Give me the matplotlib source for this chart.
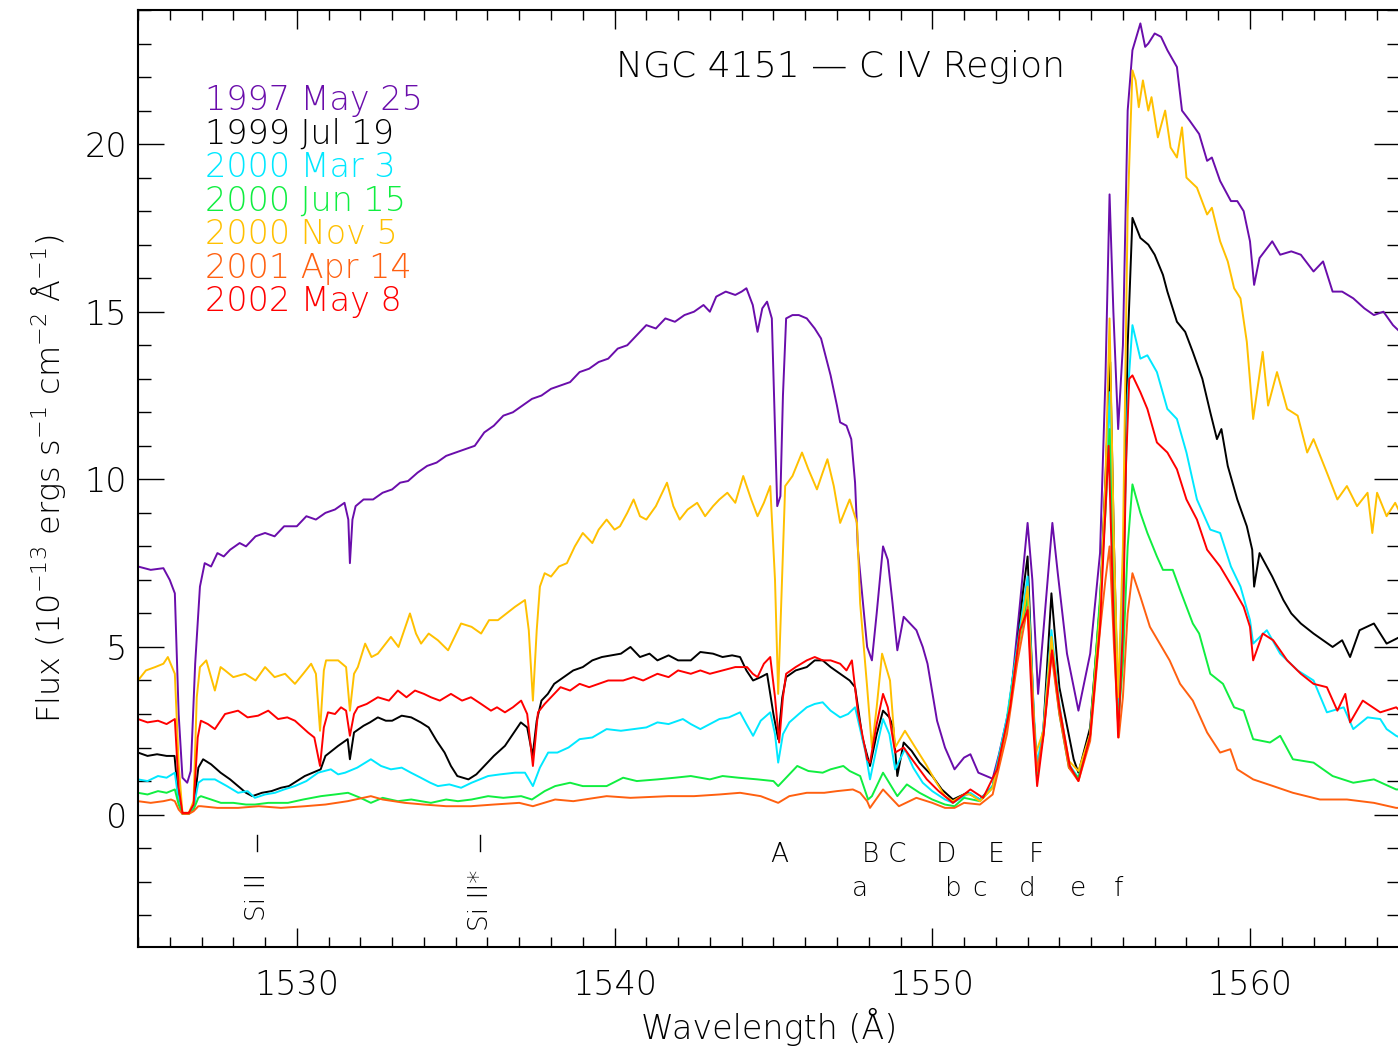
import matplotlib
matplotlib.use("Agg")
import matplotlib.pyplot as plt
from matplotlib.ticker import MultipleLocator

plt.rcParams['font.family'] = ['DejaVu Sans']
plt.rcParams['font.weight'] = 'light'
plt.rcParams['axes.labelweight'] = 'light'
plt.rcParams['mathtext.default'] = 'regular'

# (wavelength, flux), one list per epoch
wl_1997 = [1525.00, 1525.40, 1525.80, 1526.00, 1526.16, 1526.28, 1526.40, 1526.55, 1526.66, 1526.80,
           1526.95, 1527.10, 1527.30, 1527.50, 1527.70, 1527.90, 1528.20, 1528.40, 1528.70, 1529.00,
           1529.30, 1529.60, 1530.00, 1530.30, 1530.60, 1530.90, 1531.20, 1531.50, 1531.62, 1531.67,
           1531.75, 1531.85, 1532.10, 1532.40, 1532.70, 1533.00, 1533.25, 1533.50, 1533.80, 1534.10,
           1534.40, 1534.70, 1535.00, 1535.30, 1535.60, 1535.90, 1536.20, 1536.50, 1536.80, 1537.10,
           1537.40, 1537.70, 1538.00, 1538.30, 1538.60, 1538.90, 1539.20, 1539.50, 1539.80, 1540.10,
           1540.40, 1540.70, 1541.00, 1541.30, 1541.60, 1541.90, 1542.20, 1542.50, 1542.80, 1543.00,
           1543.20, 1543.50, 1543.80, 1544.00, 1544.15, 1544.35, 1544.50, 1544.65, 1544.80, 1544.95,
           1545.05, 1545.12, 1545.22, 1545.30, 1545.40, 1545.60, 1545.80, 1546.05, 1546.30, 1546.50,
           1546.80, 1547.00, 1547.10, 1547.30, 1547.45, 1547.57, 1547.66, 1547.80, 1547.95, 1548.10,
           1548.25, 1548.45, 1548.60, 1548.75, 1548.90, 1549.10, 1549.30, 1549.50, 1549.70, 1549.85,
           1550.15, 1550.40, 1550.70, 1551.00, 1551.20, 1551.45, 1551.90, 1552.10, 1552.45, 1552.76,
           1553.00, 1553.15, 1553.33, 1553.50, 1553.78, 1553.95, 1554.24, 1554.60, 1554.97, 1555.28,
           1555.45, 1555.58, 1555.70, 1555.85, 1556.00, 1556.15, 1556.30, 1556.55, 1556.70, 1556.80,
           1557.00, 1557.20, 1557.40, 1557.70, 1557.86, 1558.10, 1558.40, 1558.65, 1558.80, 1559.06,
           1559.40, 1559.60, 1559.80, 1560.00, 1560.13, 1560.30, 1560.70, 1560.95, 1561.30, 1561.60,
           1562.00, 1562.30, 1562.60, 1562.90, 1563.25, 1563.60, 1563.90, 1564.20, 1564.50, 1564.72]
fx_1997 = [7.40, 7.30, 7.35, 7.00, 6.60, 3.00, 1.10, 0.95, 1.30, 4.50,
           6.80, 7.50, 7.40, 7.80, 7.70, 7.90, 8.10, 8.00, 8.30, 8.40,
           8.30, 8.60, 8.60, 8.90, 8.80, 9.00, 9.10, 9.30, 8.80, 7.50,
           8.80, 9.20, 9.40, 9.40, 9.60, 9.70, 9.90, 9.95, 10.20, 10.40,
           10.50, 10.70, 10.80, 10.90, 11.00, 11.40, 11.60, 11.90, 12.00, 12.20,
           12.40, 12.50, 12.70, 12.80, 12.90, 13.20, 13.30, 13.50, 13.60, 13.90,
           14.00, 14.30, 14.60, 14.50, 14.80, 14.70, 14.90, 15.00, 15.20, 15.00,
           15.45, 15.60, 15.50, 15.60, 15.70, 15.20, 14.40, 15.10, 15.30, 14.80,
           11.50, 9.20, 9.50, 12.50, 14.80, 14.90, 14.90, 14.80, 14.50, 14.20,
           13.10, 12.20, 11.70, 11.60, 11.20, 9.90, 7.90, 6.50, 5.00, 4.60,
           6.00, 8.00, 7.60, 6.30, 4.90, 5.90, 5.70, 5.50, 5.00, 4.50,
           2.80, 2.00, 1.35, 1.70, 1.80, 1.25, 1.07, 1.80, 3.30, 6.30,
           8.70, 7.00, 3.60, 5.50, 8.70, 7.20, 4.80, 3.10, 4.80, 7.80,
           13.00, 18.50, 15.00, 11.50, 14.00, 21.00, 22.80, 23.60, 22.90, 23.00,
           23.30, 23.20, 22.80, 22.30, 21.00, 20.70, 20.30, 19.50, 19.60, 18.90,
           18.30, 18.30, 18.00, 17.10, 15.80, 16.60, 17.10, 16.70, 16.80, 16.70,
           16.20, 16.50, 15.60, 15.60, 15.40, 15.10, 14.90, 15.00, 14.60, 14.40]

wl_1999 = [1525.00, 1525.30, 1525.60, 1525.90, 1526.15, 1526.28, 1526.40, 1526.60, 1526.75, 1526.90,
           1527.05, 1527.30, 1527.60, 1527.90, 1528.15, 1528.40, 1528.60, 1528.90, 1529.20, 1529.50,
           1529.75, 1530.00, 1530.25, 1530.50, 1530.75, 1530.90, 1531.10, 1531.30, 1531.60, 1531.67,
           1531.80, 1532.10, 1532.30, 1532.55, 1532.80, 1533.00, 1533.30, 1533.60, 1533.90, 1534.15,
           1534.40, 1534.65, 1534.85, 1535.05, 1535.40, 1535.65, 1535.90, 1536.20, 1536.55, 1536.80,
           1537.05, 1537.25, 1537.42, 1537.55, 1537.70, 1537.90, 1538.10, 1538.40, 1538.70, 1539.00,
           1539.30, 1539.60, 1539.90, 1540.20, 1540.50, 1540.80, 1541.10, 1541.35, 1541.70, 1542.00,
           1542.40, 1542.70, 1543.10, 1543.40, 1543.70, 1543.95, 1544.15, 1544.36, 1544.60, 1544.80,
           1545.00, 1545.15, 1545.28, 1545.40, 1545.70, 1546.05, 1546.30, 1546.55, 1546.80, 1547.10,
           1547.40, 1547.57, 1547.80, 1548.04, 1548.25, 1548.45, 1548.65, 1548.77, 1548.90, 1549.10,
           1549.35, 1549.60, 1550.00, 1550.30, 1550.65, 1551.10, 1551.50, 1551.90, 1552.35, 1552.67,
           1552.85, 1553.00, 1553.20, 1553.30, 1553.50, 1553.75, 1554.00, 1554.45, 1554.60, 1554.97,
           1555.28, 1555.45, 1555.60, 1555.72, 1555.85, 1556.00, 1556.15, 1556.30, 1556.55, 1556.80,
           1557.00, 1557.26, 1557.40, 1557.70, 1557.96, 1558.20, 1558.50, 1558.75, 1558.96, 1559.10,
           1559.30, 1559.60, 1559.90, 1560.07, 1560.13, 1560.30, 1560.70, 1561.05, 1561.30, 1561.60,
           1562.00, 1562.30, 1562.60, 1562.90, 1563.15, 1563.45, 1563.90, 1564.30, 1564.72]
fx_1999 = [1.85, 1.75, 1.80, 1.75, 1.75, 0.40, 0.05, 0.05, 0.20, 1.40,
           1.65, 1.50, 1.25, 1.05, 0.85, 0.65, 0.55, 0.65, 0.70, 0.80,
           0.85, 1.00, 1.15, 1.25, 1.35, 1.75, 1.90, 2.05, 2.25, 1.65,
           2.45, 2.65, 2.75, 2.90, 2.80, 2.80, 2.95, 2.90, 2.75, 2.60,
           2.20, 1.85, 1.45, 1.15, 1.05, 1.20, 1.45, 1.75, 2.05, 2.40,
           2.75, 2.60, 1.75, 2.80, 3.40, 3.60, 3.90, 4.10, 4.30, 4.40,
           4.60, 4.70, 4.75, 4.80, 5.00, 4.70, 4.80, 4.60, 4.75, 4.60,
           4.60, 4.85, 4.80, 4.70, 4.75, 4.70, 4.30, 4.00, 4.10, 4.20,
           3.00, 2.25, 3.50, 4.10, 4.30, 4.40, 4.60, 4.60, 4.40, 4.20,
           4.00, 3.80, 2.30, 1.45, 2.40, 3.10, 2.90, 2.60, 1.15, 2.15,
           1.90, 1.55, 1.15, 0.75, 0.45, 0.65, 0.45, 0.85, 2.80, 5.00,
           6.60, 7.70, 2.80, 1.05, 2.60, 6.60, 3.80, 1.65, 1.25, 2.60,
           6.30, 10.00, 13.50, 8.00, 3.00, 6.00, 14.00, 17.80, 17.20, 17.00,
           16.70, 16.10, 15.60, 14.70, 14.40, 13.80, 13.00, 12.00, 11.20, 11.50,
           10.40, 9.40, 8.60, 7.90, 6.80, 7.80, 7.10, 6.40, 6.00, 5.70,
           5.40, 5.20, 5.00, 5.20, 4.70, 5.50, 5.70, 5.10, 5.30]

wl_2000a = [1525.00, 1525.30, 1525.63, 1525.90, 1526.16, 1526.28, 1526.40, 1526.60, 1526.75, 1526.90,
            1527.05, 1527.42, 1527.80, 1528.15, 1528.45, 1528.68, 1529.00, 1529.31, 1529.60, 1529.94,
            1530.30, 1530.67, 1531.07, 1531.30, 1531.52, 1531.90, 1532.33, 1532.65, 1532.96, 1533.30,
            1533.59, 1533.90, 1534.20, 1534.44, 1534.80, 1535.17, 1535.50, 1536.02, 1536.40, 1536.87,
            1537.18, 1537.43, 1537.65, 1537.91, 1538.20, 1538.55, 1538.90, 1539.30, 1539.75, 1540.20,
            1540.60, 1541.00, 1541.35, 1541.70, 1542.15, 1542.40, 1542.70, 1543.00, 1543.30, 1543.60,
            1543.95, 1544.15, 1544.36, 1544.60, 1544.90, 1545.05, 1545.15, 1545.30, 1545.50, 1545.80,
            1546.05, 1546.30, 1546.55, 1546.80, 1547.10, 1547.35, 1547.57, 1547.90, 1548.04, 1548.25,
            1548.45, 1548.65, 1548.83, 1549.14, 1549.40, 1549.70, 1550.00, 1550.40, 1550.65, 1551.00,
            1551.20, 1551.50, 1551.90, 1552.35, 1552.67, 1553.00, 1553.20, 1553.30, 1553.50, 1553.75,
            1554.00, 1554.30, 1554.60, 1554.97, 1555.28, 1555.45, 1555.58, 1555.72, 1555.85, 1556.00,
            1556.15, 1556.30, 1556.55, 1556.77, 1557.07, 1557.40, 1557.70, 1558.00, 1558.33, 1558.75,
            1559.06, 1559.40, 1559.70, 1560.00, 1560.10, 1560.53, 1560.95, 1561.50, 1562.00, 1562.42,
            1562.95, 1563.25, 1563.70, 1564.10, 1564.30, 1564.60, 1564.72]
fx_2000a = [1.05, 1.00, 1.15, 1.10, 1.25, 0.40, 0.02, 0.02, 0.20, 0.95,
            1.05, 1.05, 0.85, 0.65, 0.70, 0.50, 0.60, 0.65, 0.75, 0.85,
            1.00, 1.25, 1.35, 1.20, 1.25, 1.40, 1.65, 1.45, 1.35, 1.40,
            1.25, 1.10, 0.95, 0.85, 0.90, 0.80, 0.95, 1.15, 1.20, 1.25,
            1.25, 0.85, 1.40, 1.85, 1.85, 2.00, 2.25, 2.30, 2.55, 2.50,
            2.55, 2.60, 2.75, 2.70, 2.85, 2.70, 2.55, 2.70, 2.85, 2.90,
            3.05, 2.70, 2.35, 2.80, 3.05, 2.40, 1.55, 2.40, 2.75, 3.00,
            3.20, 3.30, 3.35, 3.10, 2.90, 3.00, 3.20, 1.85, 1.05, 2.00,
            2.85, 2.40, 1.35, 1.95, 1.40, 0.95, 0.70, 0.45, 0.35, 0.55,
            0.65, 0.45, 0.85, 2.90, 5.00, 7.10, 3.00, 1.50, 2.60, 5.50,
            3.30, 1.50, 1.10, 2.40, 6.00, 9.50, 12.60, 7.50, 3.00, 6.50,
            12.50, 14.60, 13.60, 13.70, 13.20, 12.10, 11.80, 10.80, 9.40, 8.50,
            8.40, 7.40, 6.80, 5.80, 5.10, 5.50, 4.80, 4.30, 4.00, 3.05,
            3.20, 2.55, 2.90, 2.85, 2.55, 2.35, 2.30]

wl_2000b = [1525.00, 1525.30, 1525.63, 1525.90, 1526.16, 1526.28, 1526.40, 1526.60, 1526.75, 1526.90,
            1526.98, 1527.30, 1527.61, 1528.00, 1528.40, 1528.68, 1529.10, 1529.72, 1530.20, 1530.76,
            1531.20, 1531.61, 1532.00, 1532.33, 1532.70, 1533.18, 1533.60, 1534.22, 1534.70, 1535.07,
            1535.50, 1536.02, 1536.50, 1537.06, 1537.40, 1537.80, 1538.13, 1538.60, 1539.00, 1539.75,
            1540.27, 1540.70, 1541.35, 1541.90, 1542.40, 1543.00, 1543.40, 1543.90, 1544.50, 1545.00,
            1545.15, 1545.50, 1545.75, 1546.10, 1546.55, 1546.80, 1547.20, 1547.40, 1547.73, 1547.98,
            1548.10, 1548.45, 1548.90, 1549.20, 1549.60, 1550.00, 1550.40, 1550.70, 1551.00, 1551.50,
            1551.90, 1552.35, 1552.67, 1553.00, 1553.20, 1553.30, 1553.50, 1553.75, 1554.00, 1554.30,
            1554.60, 1554.97, 1555.28, 1555.45, 1555.58, 1555.72, 1555.85, 1556.00, 1556.15, 1556.30,
            1556.55, 1556.77, 1557.07, 1557.26, 1557.57, 1557.80, 1558.20, 1558.40, 1558.75, 1559.15,
            1559.50, 1559.80, 1560.10, 1560.63, 1560.95, 1561.35, 1562.00, 1562.60, 1563.25, 1563.90,
            1564.60, 1564.72]
fx_2000b = [0.65, 0.60, 0.70, 0.65, 0.75, 0.30, 0.02, 0.02, 0.15, 0.50,
            0.55, 0.45, 0.35, 0.35, 0.30, 0.30, 0.35, 0.35, 0.45, 0.55,
            0.60, 0.65, 0.50, 0.35, 0.50, 0.40, 0.45, 0.35, 0.45, 0.40,
            0.45, 0.55, 0.50, 0.55, 0.45, 0.70, 0.85, 0.95, 0.85, 0.85,
            1.10, 1.00, 1.05, 1.10, 1.15, 1.05, 1.15, 1.10, 1.05, 1.00,
            0.85, 1.20, 1.45, 1.30, 1.25, 1.35, 1.45, 1.30, 1.15, 0.45,
            0.55, 1.25, 0.55, 0.90, 0.65, 0.45, 0.30, 0.25, 0.50, 0.40,
            0.80, 2.70, 4.80, 6.50, 2.80, 1.20, 2.40, 5.00, 3.00, 1.40,
            1.10, 2.40, 6.50, 9.00, 11.50, 6.00, 2.70, 4.50, 8.00, 9.85,
            9.00, 8.40, 7.70, 7.30, 7.30, 6.70, 5.70, 5.40, 4.20, 3.90,
            3.20, 3.10, 2.25, 2.15, 2.35, 1.65, 1.55, 1.15, 0.95, 1.05,
            0.75, 0.75]

wl_2000c = [1525.00, 1525.25, 1525.54, 1525.80, 1525.94, 1526.16, 1526.28, 1526.40, 1526.60, 1526.75,
            1526.85, 1526.95, 1527.15, 1527.42, 1527.60, 1527.74, 1528.00, 1528.37, 1528.70, 1529.00,
            1529.30, 1529.63, 1529.94, 1530.20, 1530.45, 1530.60, 1530.73, 1530.85, 1530.92, 1531.30,
            1531.55, 1531.67, 1531.80, 1531.92, 1532.15, 1532.35, 1532.55, 1532.96, 1533.20, 1533.56,
            1533.75, 1533.91, 1534.15, 1534.44, 1534.76, 1535.17, 1535.50, 1535.80, 1536.05, 1536.33,
            1536.60, 1536.87, 1537.18, 1537.30, 1537.43, 1537.55, 1537.65, 1537.80, 1538.00, 1538.25,
            1538.50, 1538.75, 1539.00, 1539.30, 1539.50, 1539.75, 1540.00, 1540.17, 1540.40, 1540.60,
            1540.80, 1541.00, 1541.30, 1541.65, 1541.85, 1542.05, 1542.30, 1542.60, 1542.85, 1543.10,
            1543.30, 1543.55, 1543.80, 1544.05, 1544.30, 1544.50, 1544.70, 1544.90, 1545.05, 1545.15,
            1545.27, 1545.37, 1545.60, 1545.90, 1546.10, 1546.37, 1546.55, 1546.70, 1546.90, 1547.10,
            1547.40, 1547.63, 1547.73, 1547.95, 1548.10, 1548.25, 1548.42, 1548.67, 1548.83, 1549.14,
            1549.50, 1549.80, 1550.10, 1550.40, 1550.65, 1551.00, 1551.20, 1551.50, 1551.90, 1552.35,
            1552.67, 1553.00, 1553.25, 1553.50, 1553.75, 1554.00, 1554.30, 1554.60, 1554.97, 1555.28,
            1555.45, 1555.58, 1555.72, 1555.85, 1556.00, 1556.15, 1556.30, 1556.40, 1556.50, 1556.63,
            1556.80, 1556.90, 1557.10, 1557.33, 1557.50, 1557.70, 1557.86, 1558.00, 1558.33, 1558.65,
            1558.80, 1559.06, 1559.30, 1559.50, 1559.70, 1559.90, 1560.10, 1560.40, 1560.57, 1560.85,
            1561.17, 1561.50, 1561.80, 1562.00, 1562.42, 1562.75, 1563.05, 1563.37, 1563.70, 1563.85,
            1564.00, 1564.30, 1564.57, 1564.72]
fx_2000c = [4.00, 4.30, 4.40, 4.50, 4.70, 4.20, 1.50, 0.05, 0.05, 0.40,
            3.50, 4.40, 4.60, 3.70, 4.40, 4.30, 4.10, 4.20, 4.00, 4.40,
            4.10, 4.20, 3.90, 4.20, 4.50, 4.20, 2.50, 4.30, 4.60, 4.60,
            4.40, 3.10, 4.20, 4.40, 5.10, 4.70, 4.80, 5.30, 5.00, 6.00,
            5.40, 5.10, 5.40, 5.20, 4.90, 5.70, 5.60, 5.40, 5.80, 5.80,
            6.00, 6.20, 6.40, 5.50, 3.40, 5.50, 6.80, 7.20, 7.10, 7.40,
            7.50, 8.00, 8.40, 8.10, 8.50, 8.80, 8.50, 8.60, 9.00, 9.40,
            8.90, 8.80, 9.20, 9.90, 9.20, 8.80, 9.10, 9.30, 8.90, 9.20,
            9.40, 9.60, 9.30, 10.10, 9.40, 8.90, 9.30, 9.80, 7.00, 3.60,
            7.00, 9.80, 10.10, 10.80, 10.30, 9.70, 10.20, 10.60, 9.80, 8.70,
            9.40, 8.70, 6.30, 3.80, 2.00, 3.20, 4.80, 4.00, 2.00, 2.50,
            1.95, 1.50, 1.00, 0.55, 0.40, 0.60, 0.60, 0.40, 0.80, 2.60,
            4.80, 6.80, 1.80, 2.50, 5.30, 3.20, 1.60, 1.30, 2.40, 6.00,
            10.00, 14.80, 8.00, 3.50, 8.00, 18.00, 22.20, 21.90, 21.10, 21.90,
            21.00, 21.40, 20.20, 21.00, 19.90, 19.60, 20.50, 19.00, 18.70, 17.90,
            18.10, 17.10, 16.50, 15.70, 15.40, 14.10, 11.80, 13.80, 12.20, 13.20,
            12.10, 11.90, 10.80, 11.20, 10.20, 9.40, 9.80, 9.20, 9.60, 8.40,
            9.60, 8.90, 9.30, 9.00]

wl_2001 = [1525.00, 1525.40, 1525.80, 1526.04, 1526.16, 1526.28, 1526.40, 1526.60, 1526.75, 1526.90,
           1526.98, 1527.50, 1528.15, 1528.80, 1529.50, 1530.26, 1530.90, 1531.60, 1532.33, 1532.70,
           1533.40, 1534.00, 1534.70, 1535.48, 1536.20, 1537.00, 1537.43, 1538.13, 1538.70, 1539.75,
           1540.50, 1541.70, 1542.50, 1543.30, 1543.95, 1544.60, 1545.15, 1545.50, 1546.05, 1546.60,
           1547.00, 1547.50, 1547.73, 1547.95, 1548.04, 1548.45, 1548.95, 1549.50, 1550.00, 1550.40,
           1550.70, 1551.00, 1551.50, 1551.90, 1552.35, 1552.67, 1553.00, 1553.20, 1553.30, 1553.50,
           1553.75, 1554.00, 1554.30, 1554.60, 1554.97, 1555.28, 1555.45, 1555.58, 1555.72, 1555.87,
           1556.00, 1556.15, 1556.30, 1556.55, 1556.85, 1557.16, 1557.47, 1557.80, 1558.20, 1558.65,
           1559.06, 1559.38, 1559.60, 1560.10, 1560.73, 1561.35, 1562.20, 1563.05, 1563.90, 1564.60,
           1564.72]
fx_2001 = [0.40, 0.35, 0.40, 0.45, 0.40, 0.15, 0.02, 0.02, 0.10, 0.25,
           0.25, 0.20, 0.20, 0.25, 0.20, 0.25, 0.30, 0.40, 0.55, 0.45,
           0.35, 0.30, 0.25, 0.25, 0.30, 0.35, 0.25, 0.45, 0.40, 0.55,
           0.50, 0.55, 0.55, 0.60, 0.65, 0.55, 0.35, 0.55, 0.65, 0.65,
           0.70, 0.75, 0.65, 0.40, 0.20, 0.75, 0.25, 0.50, 0.35, 0.20,
           0.20, 0.35, 0.30, 0.60, 2.40, 4.50, 6.20, 2.80, 1.30, 2.40,
           4.80, 3.00, 1.40, 1.00, 2.20, 5.50, 7.00, 8.00, 5.00, 2.30,
           3.50, 6.00, 7.20, 6.50, 5.60, 5.10, 4.60, 3.90, 3.40, 2.45,
           1.85, 1.95, 1.35, 1.05, 0.85, 0.65, 0.45, 0.45, 0.35, 0.20,
           0.20]

wl_2002 = [1525.00, 1525.30, 1525.63, 1525.90, 1526.16, 1526.28, 1526.40, 1526.60, 1526.75, 1526.88,
           1526.98, 1527.20, 1527.42, 1527.74, 1528.15, 1528.45, 1528.78, 1529.10, 1529.41, 1529.70,
           1529.94, 1530.35, 1530.55, 1530.73, 1530.85, 1530.98, 1531.20, 1531.39, 1531.55, 1531.67,
           1531.80, 1531.92, 1532.20, 1532.55, 1532.90, 1533.18, 1533.45, 1533.72, 1534.00, 1534.22,
           1534.50, 1534.85, 1535.20, 1535.48, 1535.80, 1536.11, 1536.30, 1536.55, 1536.80, 1537.06,
           1537.25, 1537.43, 1537.59, 1537.80, 1538.00, 1538.30, 1538.60, 1538.90, 1539.20, 1539.50,
           1539.80, 1540.27, 1540.60, 1540.90, 1541.35, 1541.70, 1542.00, 1542.40, 1542.70, 1543.00,
           1543.40, 1543.80, 1544.17, 1544.35, 1544.50, 1544.70, 1544.90, 1545.05, 1545.18, 1545.30,
           1545.40, 1545.70, 1546.05, 1546.30, 1546.55, 1546.80, 1547.10, 1547.30, 1547.47, 1547.66,
           1547.95, 1548.04, 1548.25, 1548.45, 1548.60, 1548.83, 1549.10, 1549.40, 1549.83, 1550.20,
           1550.65, 1551.00, 1551.20, 1551.60, 1552.04, 1552.45, 1552.76, 1553.00, 1553.15, 1553.30,
           1553.50, 1553.77, 1554.00, 1554.33, 1554.60, 1554.97, 1555.28, 1555.42, 1555.55, 1555.70,
           1555.85, 1556.00, 1556.10, 1556.20, 1556.30, 1556.55, 1556.77, 1557.07, 1557.40, 1557.70,
           1558.00, 1558.33, 1558.65, 1559.06, 1559.50, 1559.80, 1560.00, 1560.10, 1560.40, 1560.73,
           1561.17, 1561.60, 1562.00, 1562.42, 1562.75, 1563.00, 1563.15, 1563.55, 1564.10, 1564.60,
           1564.72]
fx_2002 = [2.85, 2.75, 2.80, 2.70, 2.85, 0.80, 0.05, 0.05, 0.30, 2.30,
           2.80, 2.70, 2.55, 3.00, 3.10, 2.90, 2.95, 3.10, 2.85, 2.90,
           2.80, 2.45, 2.30, 1.45, 2.60, 3.05, 3.00, 3.20, 3.10, 2.35,
           3.00, 3.20, 3.30, 3.50, 3.40, 3.70, 3.50, 3.70, 3.60, 3.50,
           3.40, 3.60, 3.40, 3.50, 3.30, 3.10, 3.20, 3.05, 3.20, 3.40,
           3.00, 1.45, 3.05, 3.30, 3.50, 3.80, 3.70, 3.90, 3.80, 3.90,
           4.00, 4.00, 4.10, 4.00, 4.20, 4.10, 4.30, 4.20, 4.30, 4.20,
           4.30, 4.40, 4.40, 4.20, 4.10, 4.50, 4.70, 3.50, 2.15, 3.50,
           4.20, 4.40, 4.60, 4.70, 4.60, 4.60, 4.50, 4.30, 4.60, 3.05,
           1.65, 1.55, 2.70, 3.60, 3.20, 1.85, 2.00, 1.60, 1.05, 0.70,
           0.35, 0.60, 0.75, 0.50, 1.35, 3.20, 5.50, 6.10, 3.00, 0.85,
           2.35, 4.90, 3.20, 1.45, 1.00, 2.35, 5.60, 8.50, 11.00, 6.00,
           2.30, 5.50, 10.50, 13.00, 13.10, 12.60, 12.10, 11.10, 10.80, 10.30,
           9.40, 8.80, 7.90, 7.40, 6.70, 6.20, 5.60, 4.60, 5.40, 5.20,
           4.60, 4.20, 3.90, 3.80, 3.10, 3.60, 2.75, 3.40, 3.05, 3.20,
           3.10]

labels = ["1997 May 25", "1999 Jul 19", "2000 Mar 3", "2000 Jun 15",
          "2000 Nov 5", "2001 Apr 14", "2002 May 8"]
colors = ["#6a0dab", "black", "#00e8ff", "#10ee40", "#ffc000", "#ff6010", "#ff0000"]
series = [(wl_1997, fx_1997), (wl_1999, fx_1999), (wl_2000a, fx_2000a), (wl_2000b, fx_2000b),
          (wl_2000c, fx_2000c), (wl_2001, fx_2001), (wl_2002, fx_2002)]

# absorption components marked under the spectrum
upper_marks = ["A", "B", "C", "D", "E", "F"]
upper_wl = [1545.18, 1548.04, 1548.90, 1550.43, 1552.00, 1553.27]
lower_marks = ["a", "b", "c", "d", "e", "f"]
lower_wl = [1547.73, 1550.65, 1551.50, 1552.98, 1554.59, 1555.85]
ism_marks = ["Si II", "Si II*"]
ism_wl = [1528.75, 1535.77]
ism_y = [-2.45, -2.55]

fig = plt.figure(figsize=(13.98, 10.52), dpi=100)
ax = fig.add_axes([0.0987, 0.0998, 0.9027, 0.8907])

for (w, f), c in zip(series, colors):
    ax.plot(w, f, color=c, lw=1.4)

ax.set_xlim(1525, 1564.72)
ax.set_ylim(-3.95, 24.0)

ax.xaxis.set_major_locator(MultipleLocator(10))
ax.xaxis.set_minor_locator(MultipleLocator(1))
ax.yaxis.set_major_locator(MultipleLocator(5))
ax.yaxis.set_minor_locator(MultipleLocator(1))
ax.tick_params(axis='x', which='major', direction='in', length=14, width=1, top=True,
               labelsize=24, pad=16)
ax.tick_params(axis='x', which='minor', direction='in', length=7, width=1, top=True)
ax.tick_params(axis='y', which='major', direction='in', length=19, width=1, right=True,
               labelsize=24, pad=8)
ax.tick_params(axis='y', which='minor', direction='in', length=9.5, width=1, right=True)
for s in ax.spines.values():
    s.set_linewidth(1.5)

ax.set_xlabel("Wavelength (Å)", fontsize=24, labelpad=4)
ax.set_ylabel("Flux (10$^{-13}$ ergs s$^{-1}$ cm$^{-2}$ Å$^{-1}$)", fontsize=23, labelpad=12)

ax.text(1540.05, 22.3, "NGC 4151 — C IV Region", fontsize=26, ha='left', va='center')
for i, (lab, c) in enumerate(zip(labels, colors)):
    ax.text(1527.1, 21.3 - i * 1.0, lab, color=c, fontsize=24, ha='left', va='center')

for lab, w in zip(upper_marks, upper_wl):
    ax.text(w, -1.2, lab, fontsize=19, ha='center', va='center')
for lab, w in zip(lower_marks, lower_wl):
    ax.text(w, -2.2, lab, fontsize=19, ha='center', va='center')
for lab, w, yy in zip(ism_marks, ism_wl, ism_y):
    ax.plot([w, w], [-0.6, -1.1], color='black', lw=1)
    ax.text(w, yy, lab, fontsize=19, rotation=90, ha='center', va='center')

fig.savefig("out.png", dpi=100)
